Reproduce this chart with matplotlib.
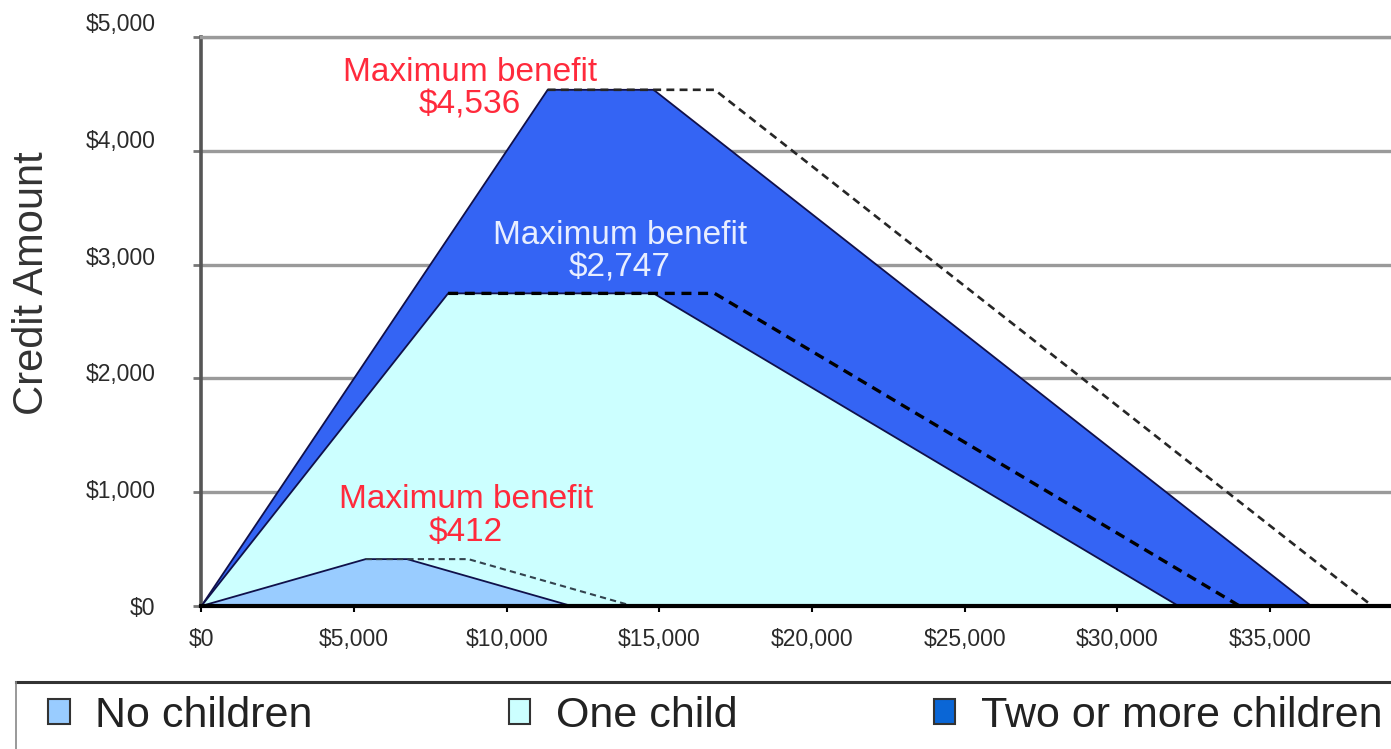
import matplotlib.pyplot as plt
from matplotlib.lines import Line2D
from matplotlib.patches import Patch
from matplotlib.ticker import FuncFormatter
from matplotlib.transforms import ScaledTranslation

plt.rcParams["font.family"] = ["Liberation Sans", "DejaVu Sans"]

# EITC schedule (single filers solid, married dashed)
labels = ["No children", "One child", "Two or more children"]
phase_in_end = [5380, 8080, 11340]
phase_out_start = [6740, 14810, 14810]
phase_out_end = [12120, 32001, 36348]
max_credit = [412, 2747, 4536]
married_out_start = [8740, 16810, 16810]
married_out_end = [14120, 34001, 38348]

x_ticks = [0, 5000, 10000, 15000, 20000, 25000, 30000, 35000]
y_ticks = [0, 1000, 2000, 3000, 4000, 5000]

fills = ["#99ccff", "#ccffff", "#3464f4"]
legend_fills = ["#99ccff", "#ccffff", "#0a66d6"]
dash_colors = ["#33434e", "#000000", "#262626"]
dash_widths = [1.5, 2.4, 1.9]
# annotation centres (data units) and text colours
note_pos = [(8670, 790), (13710, 3115), (8800, 4545)]
note_colors = ["#ff2a3c", "#e8eeff", "#ff2a3c"]

W, H = 1391, 749
fig = plt.figure(figsize=(W / 100, H / 100), dpi=100)
ax = fig.add_axes([201.4 / W, 1 - 606 / H, 1 - 201.4 / W, 569 / H])

for i in [2, 1, 0]:
    z = 2 + (2 - i)
    xs = [0, phase_in_end[i], phase_out_start[i], phase_out_end[i]]
    ys = [0, max_credit[i], max_credit[i], 0]
    ax.fill(xs, ys, facecolor=fills[i], edgecolor="#10104a", lw=1.3, zorder=z)
    ax.plot([phase_in_end[i], married_out_start[i], married_out_end[i]],
            [max_credit[i], max_credit[i], 0],
            color=dash_colors[i], lw=dash_widths[i], ls=(0, (3, 2)), zorder=z + 0.5)

for (nx, ny), c, m in zip(note_pos, note_colors, max_credit):
    ax.text(nx, ny, f"Maximum benefit\n${m:,}", color=c, fontsize=24,
            ha="center", va="center", multialignment="center",
            linespacing=1.05, zorder=10)

ax.set_xlim(0, 38960)
ax.set_ylim(0, 5000)
ax.set_xticks(x_ticks)
ax.set_yticks(y_ticks)
fmt = FuncFormatter(lambda v, p: f"${v:,.0f}")
ax.xaxis.set_major_formatter(fmt)
ax.yaxis.set_major_formatter(fmt)

ax.set_axisbelow(True)
ax.yaxis.grid(True, color="#9a9a9a", lw=2.4)
ax.spines["right"].set_visible(False)
ax.spines["top"].set_color("#9a9a9a")
ax.spines["top"].set_linewidth(2.4)
ax.spines["left"].set_color("#555555")
ax.spines["left"].set_linewidth(2.6)
ax.spines["bottom"].set_color("black")
ax.spines["bottom"].set_linewidth(3)
ax.spines["bottom"].set_zorder(12)

ax.tick_params(axis="y", length=6, width=2, color="#777777", pad=27,
               labelsize=16.5, labelcolor="#2a2a2a")
ax.tick_params(axis="x", length=4, width=1.5, color="black", pad=12,
               labelsize=16.5, labelcolor="#2a2a2a")

# the source image's y labels drift upward a little relative to the gridlines
for k, lab in enumerate(ax.get_yticklabels()):
    lab.set_transform(lab.get_transform()
                      + ScaledTranslation(0, 3 * k / 100, fig.dpi_scale_trans))

ax.set_ylabel("Credit Amount", fontsize=30, color="#333333", va="center")
ax.yaxis.set_label_coords(-0.1424, 0.5677)

# legend box along the bottom edge (runs off the right of the image, as in the source)
fig.add_artist(Line2D([16 / W, 1], [1 - 682 / H] * 2, color="#333333", lw=2.2,
                      transform=fig.transFigure))
fig.add_artist(Line2D([16 / W] * 2, [0, 1 - 682 / H], color="#888888", lw=1.2,
                      transform=fig.transFigure))
handles = [Patch(facecolor=c, edgecolor="#333333", lw=1.5) for c in legend_fills]
fig.legend(handles, labels, loc="center left", bbox_to_anchor=(48 / W, 1 - 716 / H),
           ncol=3, frameon=False, fontsize=31, handlelength=0.5, handleheight=0.5,
           handletextpad=0.6, columnspacing=4.55, borderpad=0, borderaxespad=0,
           labelcolor="#222222")

fig.savefig("out.png", dpi=100)
